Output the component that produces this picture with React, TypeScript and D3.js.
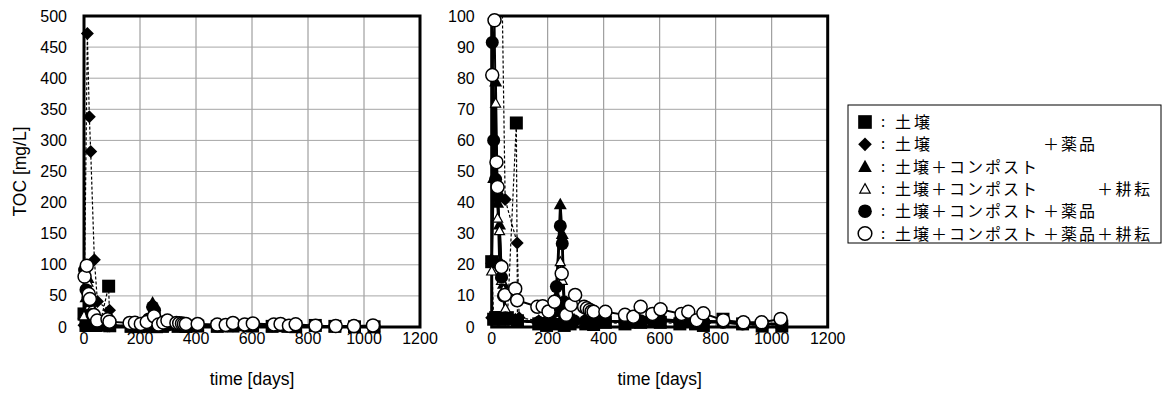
import React from 'react';
import * as d3 from 'd3';

// ---------- data ----------
const xTicks = [0, 200, 400, 600, 800, 1000, 1200];
const yTicksLeft = [0, 50, 100, 150, 200, 250, 300, 350, 400, 450, 500];
const yTicksRight = [0, 10, 20, 30, 40, 50, 60, 70, 80, 90, 100];

// ■ 土壌
const soilDays = [0, 7, 14, 21, 28, 35, 42, 56, 88, 92, 168, 196, 224, 245, 259, 280, 336, 364, 406, 476, 532, 602, 672, 728, 756, 826, 896, 966, 1036];
const soilVals = [21, 2.5, 3, 3, 2.5, 3, 2.5, 3, 65.6, 2, 1, 0.5, 1, 1.5, 0.5, 1, 1, 0.8, 1.5, 1, 1.5, 1.5, 1, 1, 0.5, 2.5, 1, 0.3, 0.3];

// ◆ 土壌＋薬品
const chemDays = [0, 12, 19, 24, 37, 48, 91, 98, 168, 224, 252, 280, 364, 476, 602, 728, 826, 966, 1036];
const chemVals = [3, 472, 338, 282, 108, 41, 27, 3, 2, 3, 6, 2, 2, 1.5, 2, 1.5, 1.5, 1, 1];

// ▲ 土壌＋コンポスト
const compDays = [0, 7, 14, 21, 28, 35, 42, 49, 56, 84, 91, 168, 196, 224, 231, 245, 252, 259, 266, 280, 294, 336, 364, 406, 476, 532, 574, 602, 672, 728, 756, 826, 896, 966, 1036];
const compVals = [22, 48, 79, 40, 33, 17, 14, 5, 3, 2.5, 2, 1.5, 1.5, 5, 10, 39.5, 30, 6, 3, 2, 2.5, 2, 1.5, 2, 1.5, 2, 1.5, 2, 1.5, 1.5, 1.5, 1.5, 1, 1, 1];

// △ 土壌＋コンポスト＋耕耘
const compTillDays = [0, 14, 21, 28, 35, 42, 49, 56, 84, 91, 168, 196, 224, 238, 245, 252, 259, 266, 280, 336, 364, 406, 476, 532, 602, 672, 728, 826, 896, 966, 1036];
const compTillVals = [18, 72, 35, 31, 15, 12, 6, 3, 2.5, 2, 2, 2, 4, 8, 21, 15, 5, 3, 2.5, 2, 2, 2, 2, 2, 2.5, 2, 2, 2, 1, 1, 1];

// ● 土壌＋コンポスト＋薬品
const compChemDays = [2, 7, 14, 21, 28, 35, 42, 49, 56, 84, 91, 168, 182, 196, 210, 224, 231, 245, 252, 259, 266, 280, 294, 336, 364, 406, 476, 504, 532, 574, 602, 672, 700, 728, 756, 826, 896, 966, 1036];
const compChemVals = [91.5, 60, 47.5, 42, 20, 16, 10, 3, 2.5, 2, 2, 1.5, 1, 1.5, 2, 5, 13, 32.5, 26.8, 8, 3, 2, 2, 2, 2, 2, 1.5, 1.5, 2, 2, 2.5, 2, 2, 1.5, 2, 1.5, 1, 1, 1];

// ○ 土壌＋コンポスト＋薬品＋耕耘
const allDays = [2, 10, 17, 21, 35, 47, 84, 91, 163, 182, 203, 224, 250, 266, 283, 298, 330, 340, 350, 357, 364, 406, 476, 506, 532, 574, 603, 678, 702, 732, 756, 827, 899, 964, 1032];
const allVals = [81, 98.6, 53, 45, 19.3, 10.3, 12.3, 8.6, 6.5, 6.7, 5, 8.1, 17.2, 3.9, 7.1, 10.3, 6.5, 6, 5.5, 5, 4.9, 4.9, 3.9, 3.3, 6.5, 4.2, 5.7, 4.2, 4.9, 2.2, 4.4, 2.2, 1.5, 1.5, 2.6];

// legend labels, split into aligned parts (base / ＋薬品 / ＋耕耘)
const legendBase = ['土壌', '土壌', '土壌＋コンポスト', '土壌＋コンポスト', '土壌＋コンポスト', '土壌＋コンポスト'];
const legendChem = ['', '＋薬品', '', '', '＋薬品', '＋薬品'];
const legendTill = ['', '', '', '＋耕耘', '', '＋耕耘'];

type Shape = 'square' | 'diamond' | 'triUp' | 'triOpen' | 'circle' | 'circleOpen';
interface Series { days: number[]; vals: number[]; shape: Shape; dash: string | null; lw: number; }

const series: Series[] = [
  { days: soilDays, vals: soilVals, shape: 'square', dash: '3,2', lw: 1.2 },
  { days: chemDays, vals: chemVals, shape: 'diamond', dash: '3,2', lw: 1.2 },
  { days: compDays, vals: compVals, shape: 'triUp', dash: null, lw: 2.5 },
  { days: compTillDays, vals: compTillVals, shape: 'triOpen', dash: null, lw: 1.2 },
  { days: compChemDays, vals: compChemVals, shape: 'circle', dash: null, lw: 2.5 },
  { days: allDays, vals: allVals, shape: 'circleOpen', dash: null, lw: 2 },
];

const FONT = '"Liberation Sans", Arial, sans-serif';
const JFONT = '"Noto Sans CJK JP", "Noto Sans", sans-serif';

function Marker({ shape, cx, cy, s = 1 }: { shape: Shape; cx: number; cy: number; s?: number }) {
  switch (shape) {
    case 'square': {
      const h = 6.5 * s;
      return <rect x={cx - h} y={cy - h} width={2 * h} height={2 * h} fill="#000" />;
    }
    case 'diamond': {
      const h = 6.5 * s;
      return <path d={`M${cx},${cy - h}L${cx + h},${cy}L${cx},${cy + h}L${cx - h},${cy}Z`} fill="#000" />;
    }
    case 'triUp': {
      const h = 6.5 * s;
      return <path d={`M${cx},${cy - h}L${cx + h},${cy + h * 0.8}L${cx - h},${cy + h * 0.8}Z`} fill="#000" />;
    }
    case 'triOpen': {
      const h = 5 * s;
      return <path d={`M${cx},${cy - h}L${cx + h},${cy + h * 0.8}L${cx - h},${cy + h * 0.8}Z`} fill="#fff" stroke="#000" strokeWidth={1.2} />;
    }
    case 'circle':
      return <circle cx={cx} cy={cy} r={6.5 * s} fill="#000" />;
    case 'circleOpen':
      return <circle cx={cx} cy={cy} r={6.5 * s} fill="#fff" stroke="#000" strokeWidth={1.5} />;
  }
}

function Panel({ id, left, yMax, yTicks, yTitle }: { id: string; left: number; yMax: number; yTicks: number[]; yTitle: boolean }) {
  const top = 16, bottom = 327, width = 336;
  const x = d3.scaleLinear().domain([0, 1200]).range([left, left + width]);
  const y = d3.scaleLinear().domain([0, yMax]).range([bottom, top]);
  const line = d3.line<[number, number]>().x(d => x(d[0])).y(d => y(d[1]));
  return (
    <g>
      <defs>
        <clipPath id={id}>
          <rect x={left} y={top} width={width} height={bottom - top} />
        </clipPath>
      </defs>
      <rect x={left} y={top} width={width} height={bottom - top} fill="#fff" />
      {xTicks.map(t => (
        <line key={'gx' + t} x1={x(t)} x2={x(t)} y1={top} y2={bottom} stroke="#8c8c8c" strokeWidth={1} />
      ))}
      {yTicks.map(t => (
        <line key={'gy' + t} x1={left} x2={left + width} y1={y(t)} y2={y(t)} stroke="#a6a6a6" strokeWidth={1} />
      ))}
      <g clipPath={`url(#${id})`}>
        {series.map((s, i) => (
          <path
            key={'l' + i}
            d={line(s.days.map((d, j) => [d, s.vals[j]] as [number, number])) || ''}
            fill="none"
            stroke="#000"
            strokeWidth={s.lw}
            strokeDasharray={s.dash || undefined}
          />
        ))}
      </g>
      <rect x={left} y={top} width={width} height={bottom - top} fill="none" stroke="#000" strokeWidth={3} />
      {series.map((s, i) => (
        <g key={'m' + i}>
          {s.days.map((d, j) =>
            s.vals[j] <= yMax ? <Marker key={j} shape={s.shape} cx={x(d)} cy={y(s.vals[j])} /> : null
          )}
        </g>
      ))}
      {yTicks.map(t => (
        <text key={'ty' + t} x={left - 17} y={y(t) + 5.5} textAnchor="end" fontFamily={FONT} fontSize={16} fill="#000">{t}</text>
      ))}
      {xTicks.map(t => (
        <text key={'tx' + t} x={x(t)} y={344} textAnchor="middle" fontFamily={FONT} fontSize={16} fill="#000">{t}</text>
      ))}
      <text x={left + width / 2} y={385} textAnchor="middle" fontFamily={FONT} fontSize={17.5} fill="#000">time [days]</text>
      {yTitle && (
        <text transform={`translate(26,${(top + bottom) / 2}) rotate(-90)`} textAnchor="middle" fontFamily={FONT} fontSize={17.5} fill="#000">TOC [mg/L]</text>
      )}
    </g>
  );
}

function Legend() {
  const lx = 848, ly = 105, lw = 313, lh = 138;
  const rowY = (i: number) => 122 + i * 22.3;
  const shapes: Shape[] = ['square', 'diamond', 'triUp', 'triOpen', 'circle', 'circleOpen'];
  const baseW = (s: string) => (s.length === 2 ? 35 : 142);
  return (
    <g>
      <rect x={lx} y={ly} width={lw} height={lh} fill="#fff" stroke="#000" strokeWidth={1} />
      {legendBase.map((base, i) => (
        <g key={i}>
          <Marker shape={shapes[i]} cx={865} cy={rowY(i)} s={1.05} />
          <text x={883} y={rowY(i) + 5} textAnchor="middle" fontFamily={JFONT} fontSize={15} fill="#000">:</text>
          <text y={rowY(i) + 6} fontFamily={JFONT} fontSize={16} fill="#000">
            <tspan x={895} textLength={baseW(base)} lengthAdjust="spacing">{base}</tspan>
            {legendChem[i] && <tspan x={1043} textLength={52} lengthAdjust="spacing">{legendChem[i]}</tspan>}
            {legendTill[i] && <tspan x={1097} textLength={53} lengthAdjust="spacing">{legendTill[i]}</tspan>}
          </text>
        </g>
      ))}
    </g>
  );
}

export default function App() {
  return (
    <svg width={1163} height={396} style={{ position: 'absolute', left: 0, top: 0, background: '#fff' }}>
      <rect width={1163} height={396} fill="#fff" />
      <Panel id="clipL" left={84} yMax={500} yTicks={yTicksLeft} yTitle={true} />
      <Panel id="clipR" left={491.7} yMax={100} yTicks={yTicksRight} yTitle={false} />
      <Legend />
    </svg>
  );
}
